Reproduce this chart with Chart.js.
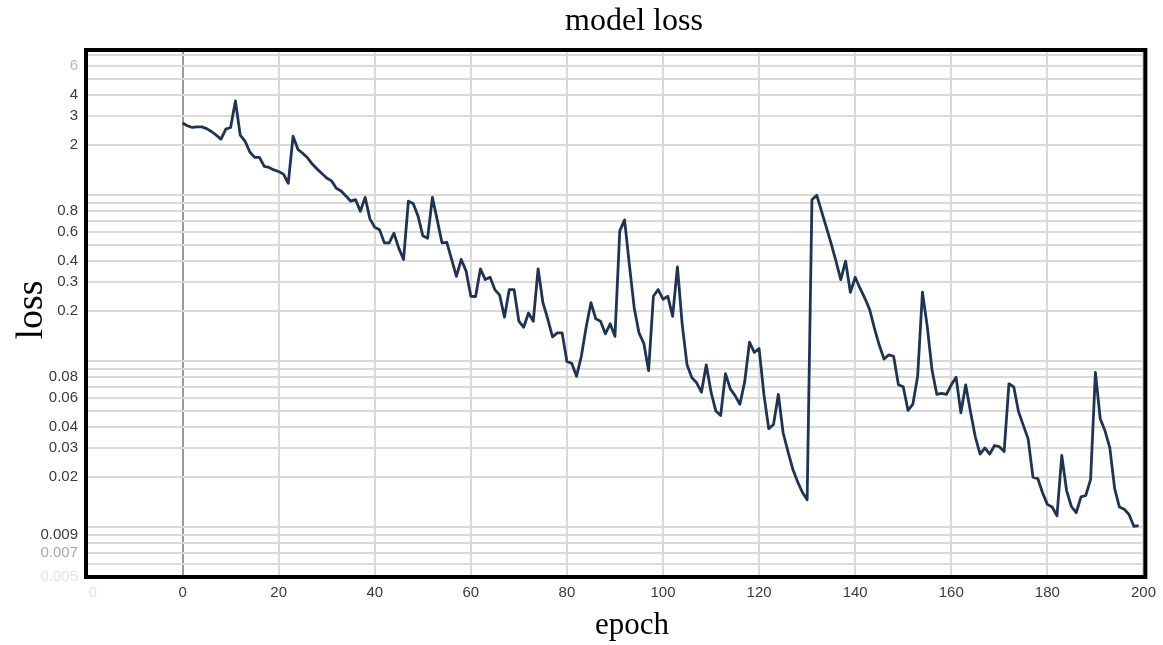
<!DOCTYPE html>
<html>
<head>
<meta charset="utf-8">
<script src="https://cdn.jsdelivr.net/npm/chart.js@4"></script>
<style>
html,body{margin:0;padding:0;background:#fff;}
#wrap{width:1163px;height:645px;}
</style>
</head>
<body>
<div id="wrap"><canvas id="c" width="1163" height="645"></canvas></div>
<script>
// ---- data ----
const titleText = 'model loss';
const xTitle = 'epoch';
const yTitle = 'loss';

const epochs = Array.from({length: 200}, (_, i) => i);
const loss = [
  2.72, 2.62, 2.56, 2.58, 2.58, 2.52, 2.42, 2.30, 2.18, 2.50,
  2.56, 3.70, 2.30, 2.12, 1.82, 1.69, 1.69, 1.49, 1.47, 1.42,
  1.39, 1.34, 1.18, 2.27, 1.89, 1.79, 1.68, 1.54, 1.44, 1.35,
  1.27, 1.22, 1.10, 1.06, 0.99, 0.92, 0.94, 0.80, 0.97, 0.72,
  0.64, 0.62, 0.516, 0.516, 0.59, 0.48, 0.41, 0.92, 0.89, 0.75,
  0.57, 0.55, 0.97, 0.71, 0.516, 0.52, 0.41, 0.324, 0.41, 0.35,
  0.246, 0.245, 0.36, 0.31, 0.32, 0.27, 0.25, 0.184, 0.27, 0.27,
  0.174, 0.16, 0.195, 0.174, 0.36, 0.225, 0.18, 0.14, 0.148, 0.148,
  0.0994, 0.097, 0.081, 0.107, 0.16, 0.225, 0.18, 0.174, 0.146, 0.168,
  0.141, 0.61, 0.71, 0.38, 0.21, 0.148, 0.128, 0.0877, 0.246, 0.27,
  0.236, 0.246, 0.186, 0.37, 0.166, 0.095, 0.0795, 0.074, 0.065, 0.095,
  0.065, 0.050, 0.047, 0.084, 0.068, 0.062, 0.055, 0.075, 0.13, 0.113,
  0.119, 0.063, 0.0392, 0.0415, 0.063, 0.037, 0.0286, 0.0224, 0.0188, 0.0162,
  0.0146, 0.94, 1.00, 0.80, 0.64, 0.51, 0.40, 0.31, 0.40, 0.26,
  0.32, 0.275, 0.24, 0.205, 0.158, 0.125, 0.103, 0.109, 0.107, 0.072,
  0.070, 0.0504, 0.055, 0.081, 0.26, 0.162, 0.088, 0.063, 0.064, 0.063,
  0.072, 0.080, 0.0488, 0.072, 0.0496, 0.035, 0.0275, 0.030, 0.0275, 0.031,
  0.0305, 0.0285, 0.073, 0.070, 0.0496, 0.041, 0.034, 0.020, 0.0196, 0.0161,
  0.0137, 0.0132, 0.0117, 0.027, 0.0166, 0.0133, 0.0122, 0.0152, 0.0155, 0.0194,
  0.0856, 0.045, 0.038, 0.030, 0.0171, 0.0132, 0.0128, 0.0119, 0.0101, 0.0102
];

const xTickValues = [-20, 0, 20, 40, 60, 80, 100, 120, 140, 160, 180, 200];
const xTickLabels = ['   0', '0', '20', '40', '60', '80', '100', '120', '140', '160', '180', '200'];

const yGridValues = [
  0.005, 0.006, 0.007, 0.008, 0.009,
  0.01, 0.02, 0.03, 0.04, 0.05, 0.06, 0.07, 0.08, 0.09,
  0.1, 0.2, 0.3, 0.4, 0.5, 0.6, 0.7, 0.8, 0.9,
  1, 2, 3, 4, 5, 6, 7
];
const yLabelValues = [6, 4, 3, 2, 0.8, 0.6, 0.4, 0.3, 0.2, 0.08, 0.06, 0.04, 0.03, 0.02, 0.009, 0.007, 0.005];
const yLabelTexts  = ['6', '4', '3', '2', '0.8', '0.6', '0.4', '0.3', '0.2', '0.08', '0.06', '0.04', '0.03', '0.02', '0.009', '0.007', '0.005'];

// ---- helpers ----
function yLabelIndex(v) {
  return yLabelValues.findIndex(l => Math.abs(l - v) / l < 1e-6);
}
function yLabelColor(v) {
  if (Math.abs(v - 6) < 1e-6) return '#b8b8b8';
  if (Math.abs(v - 0.007) < 1e-9) return '#a8a8a8';
  if (Math.abs(v - 0.005) < 1e-9) return '#e4e4e4';
  return '#3a3a3a';
}

const framePlugin = {
  id: 'frameAndTitles',
  afterDraw(chart) {
    const {ctx, chartArea: a} = chart;
    ctx.save();
    ctx.strokeStyle = '#000';
    ctx.lineWidth = 4;
    ctx.strokeRect(a.left, a.top, a.right - a.left, a.bottom - a.top);
    ctx.fillStyle = '#000';
    ctx.textAlign = 'center';
    ctx.textBaseline = 'alphabetic';
    ctx.font = '32px "Liberation Serif", "Times New Roman", serif';
    ctx.fillText(titleText, 634, 30);
    ctx.font = '31px "Liberation Serif", "Times New Roman", serif';
    ctx.fillText(xTitle, 632, 634);
    ctx.translate(42, 310);
    ctx.rotate(-Math.PI / 2);
    ctx.font = '38px "Liberation Serif", "Times New Roman", serif';
    ctx.fillText(yTitle, 0, 0);
    ctx.restore();
  }
};

new Chart(document.getElementById('c'), {
  type: 'line',
  data: {
    datasets: [{
      label: yTitle,
      data: epochs.map((e, i) => ({x: e, y: loss[i]})),
      borderColor: '#1f3453',
      borderWidth: 2.8,
      pointRadius: 0,
      tension: 0,
      fill: false,
      borderJoinStyle: 'round'
    }]
  },
  options: {
    responsive: false,
    animation: false,
    devicePixelRatio: 1,
    layout: {padding: {left: 0, top: 50, right: 17, bottom: 0}},
    plugins: {
      legend: {display: false},
      title: {display: false},
      tooltip: {enabled: false}
    },
    scales: {
      x: {
        type: 'linear',
        min: -20.1,
        max: 200.4,
        afterBuildTicks: s => { s.ticks = xTickValues.map(v => ({value: v})); },
        afterFit: s => { s.height = 68; },
        border: {display: false},
        grid: {
          drawTicks: false,
          lineWidth: 2,
          color: c => (c.tick && c.tick.value === 0) ? '#9a9a9a' : '#dadada'
        },
        ticks: {
          autoSkip: false,
          maxRotation: 0,
          padding: 7,
          font: {family: '"Liberation Sans", Arial, sans-serif', size: 15},
          color: c => (c.tick && c.tick.value === -20) ? '#dedede' : '#3a3a3a',
          callback: (v) => {
            const i = xTickValues.indexOf(v);
            return i >= 0 ? xTickLabels[i] : '';
          }
        }
      },
      y: {
        type: 'logarithmic',
        min: 0.005,
        max: 7.5,
        afterBuildTicks: s => { s.ticks = yGridValues.map(v => ({value: v})); },
        afterFit: s => { s.width = 86; },
        border: {display: false},
        grid: {
          drawTicks: false,
          lineWidth: 2,
          color: '#dadada'
        },
        ticks: {
          autoSkip: false,
          padding: 8,
          font: {family: '"Liberation Sans", Arial, sans-serif', size: 15},
          color: c => yLabelColor(c.tick ? c.tick.value : 0),
          callback: (v) => {
            const i = yLabelIndex(v);
            return i >= 0 ? yLabelTexts[i] : '';
          }
        }
      }
    }
  },
  plugins: [framePlugin]
});
</script>
</body>
</html>
